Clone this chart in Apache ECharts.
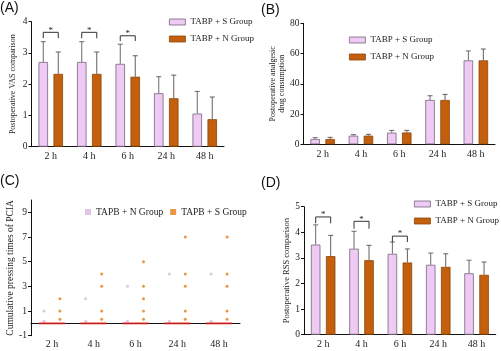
<!DOCTYPE html>
<html>
<head>
<meta charset="utf-8">
<script src="https://cdn.jsdelivr.net/npm/echarts@6/dist/echarts.min.js"></script>
<style>
  html, body { margin: 0; padding: 0; background: #fff; }
  #chart { width: 501px; height: 351px; }
</style>
</head>
<body>
<div id="chart"></div>
<script>
const hours = ['2 h', '4 h', '6 h', '24 h', '48 h'];

// (A) postoperative VAS, mean and SD
const vasS = [2.71, 2.71, 2.65, 1.71, 1.06];
const vasSsd = [0.65, 0.65, 0.63, 0.53, 0.71];
const vasN = [2.33, 2.33, 2.24, 1.55, 0.88];
const vasNsd = [0.70, 0.70, 0.67, 0.74, 0.71];
const vasSig = [[0, 3.66, 3.47], [1, 3.66, 3.47], [2, 3.55, 3.38]];

// (B) analgesic drug consumption
const drugS = [3.5, 5.7, 7.7, 29.3, 55.5];
const drugSsd = [0.9, 0.7, 1.5, 2.8, 6.2];
const drugN = [3.5, 5.7, 7.8, 29.3, 55.5];
const drugNsd = [1.1, 0.9, 1.4, 3.7, 7.5];

// (C) cumulative PCIA presses, individual values per time point
const pressN = [[1, 0], [2, 0], [3, 0], [4, 0], [4, 0]];
const pressS = [[2, 1, 0], [4, 3, 1, 0], [5, 3, 2, 1, 0], [7, 4, 3, 1, 0], [7, 4, 3, 1, 0]];
const medianN = [0, 0, 0, 0, 0];
const medianS = [0, 0, 0, 0, 0];
const pressTicks = [-1, 1, 3, 5, 7, 9];

// (D) postoperative RSS
const rssS = [3.52, 3.36, 3.16, 2.73, 2.40];
const rssSsd = [0.77, 0.68, 0.46, 0.46, 0.51];
const rssN = [3.07, 2.91, 2.82, 2.65, 2.34];
const rssNsd = [0.81, 0.58, 0.53, 0.51, 0.50];
const rssSig = [[0, 4.60, 4.35], [1, 4.43, 4.14], [2, 3.85, 3.62]];

const SERIF = 'Liberation Serif';
const PINK = '#efcaf4', PINK_EDGE = '#75667a';
const ORANGE = '#c4600d', ORANGE_EDGE = '#8c4408';
const BAR_W = 9.5, HALF = 7.5;
const S_NAME = 'TABP + S Group', N_NAME = 'TABP + N Group';

const chart = echarts.init(document.getElementById('chart'), null, { renderer: 'canvas' });

const grids = [
  { left: 31.5, top: 21.7, width: 192.5, height: 125 },
  { left: 303.5, top: 23.3, width: 191.5, height: 121 },
  { left: 31, top: 200, width: 209, height: 135.7 },
  { left: 304, top: 206.7, width: 191.75, height: 128 },
];

const lineStyle = { color: '#111', width: 1 };

function xAxis(gi, fontSize, margin) {
  return {
    type: 'category', gridIndex: gi, data: hours,
    axisLine: { lineStyle },
    axisTick: { alignWithLabel: true, length: 3, lineStyle },
    axisLabel: { fontFamily: SERIF, fontSize, color: '#222', margin },
  };
}

function yAxis(gi, min, max, interval, name, nameGap, fontSize) {
  return {
    type: 'value', gridIndex: gi, min, max, interval,
    name, nameLocation: 'middle', nameGap, nameRotate: 90,
    nameTextStyle: { fontFamily: SERIF, fontSize: fontSize, color: '#222', lineHeight: 9 },
    axisLine: { show: true, lineStyle },
    axisTick: { show: true, length: 3, lineStyle },
    axisLabel: { fontFamily: SERIF, fontSize: 9.5, color: '#222', margin: 4 },
    splitLine: { show: false },
  };
}

function errorSeries(gi, mean, sd, offset, color) {
  return {
    type: 'custom', xAxisIndex: gi, yAxisIndex: gi, z: 3,
    data: mean.map((m, i) => [i, m, m + sd[i]]),
    encode: { x: 0, y: [1, 2] },
    renderItem: (params, api) => {
      const base = api.coord([api.value(0), api.value(1)]);
      const top = api.coord([api.value(0), api.value(2)]);
      const x = base[0] + offset;
      const style = { stroke: color, lineWidth: 1 };
      return {
        type: 'group',
        children: [
          { type: 'line', shape: { x1: x, y1: base[1], x2: x, y2: top[1] }, style },
          { type: 'line', shape: { x1: x - 2.5, y1: top[1], x2: x + 2.5, y2: top[1] }, style },
        ],
      };
    },
  };
}

function bracketSeries(gi, sig) {
  return {
    type: 'custom', xAxisIndex: gi, yAxisIndex: gi, z: 4,
    data: sig,
    encode: { x: 0, y: [1, 2] },
    renderItem: (params, api) => {
      const top = api.coord([api.value(0), api.value(1)]);
      const leg = api.coord([api.value(0), api.value(2)]);
      const x = top[0];
      return {
        type: 'group',
        children: [
          {
            type: 'polyline',
            shape: { points: [[x - HALF, leg[1]], [x - HALF, top[1]], [x + HALF, top[1]], [x + HALF, leg[1]]] },
            style: { stroke: '#333', lineWidth: 1, fill: null },
          },
          {
            type: 'text',
            style: { text: '*', x, y: top[1] + 2.5, fontFamily: SERIF, fontSize: 9, fill: '#222', textAlign: 'center', textVerticalAlign: 'bottom' },
          },
        ],
      };
    },
  };
}

function barSeries(gi, name, data, color, edge) {
  return {
    type: 'bar', name, xAxisIndex: gi, yAxisIndex: gi, data,
    barWidth: BAR_W, barGap: '58%',
    itemStyle: { color, borderColor: edge, borderWidth: 0.8 },
  };
}

function barPanel(gi, sMean, sSd, nMean, nSd, sig) {
  const out = [
    barSeries(gi, S_NAME, sMean, PINK, PINK_EDGE),
    barSeries(gi, N_NAME, nMean, ORANGE, ORANGE_EDGE),
    errorSeries(gi, sMean, sSd, -HALF, '#6f6474'),
    errorSeries(gi, nMean, nSd, HALF, '#6b5d55'),
  ];
  if (sig) out.push(bracketSeries(gi, sig));
  return out;
}

function pointData(groups, dx, zeroLift) {
  const out = [];
  groups.forEach((vals, i) => {
    vals.forEach(v => {
      out.push(v === 0 ? { value: [i, v], symbolOffset: [dx, zeroLift] } : [i, v]);
    });
  });
  return out;
}

function barLegend(left, top) {
  return {
    orient: 'vertical', left, top, itemWidth: 16, itemHeight: 6, itemGap: 6,
    icon: 'rect', data: [S_NAME, N_NAME],
    itemStyle: { borderWidth: 0.8 },
    textStyle: { fontFamily: SERIF, fontSize: 9, color: '#222', lineHeight: 11 },
    selectedMode: false,
  };
}

const option = {
  animation: false,
  backgroundColor: '#fff',
  title: [
    { text: '(A)', left: 0, top: 1 },
    { text: '(B)', left: 261, top: 3 },
    { text: '(C)', left: 0, top: 174 },
    { text: '(D)', left: 261, top: 176 },
  ].map(t => ({ ...t, padding: 0, textStyle: { fontFamily: 'Liberation Sans', fontSize: 14, fontWeight: 'normal', color: '#111' } })),
  legend: [
    barLegend(164, 11.5),
    barLegend(344, 29.5),
    {
      orient: 'horizontal', left: 80, top: 202, itemWidth: 6, itemHeight: 6, itemGap: 7,
      icon: 'rect', data: ['TAPB + N Group', 'TAPB + S Group'],
      textStyle: { fontFamily: SERIF, fontSize: 9.5, color: '#222' },
      selectedMode: false,
    },
    barLegend(409, 193.5),
  ],
  grid: grids,
  xAxis: [xAxis(0, 10, 5), xAxis(1, 10, 5), xAxis(2, 10, 4), xAxis(3, 10, 5)],
  yAxis: [
    yAxis(0, 0, 4, 1, 'Postoperative VAS comparison', 14, 8),
    yAxis(1, 0, 80, 20, 'Postoperative analgesic\ndrug consumption', 17, 8),
    {
      type: 'value', gridIndex: 2, min: -1, max: 10,
      name: 'Cumulative pressing times of PCIA', nameLocation: 'middle', nameGap: 15, nameRotate: 90,
      nameTextStyle: { fontFamily: SERIF, fontSize: 9.5, color: '#222' },
      axisLine: { show: true, lineStyle },
      axisTick: { show: true, length: 3, lineStyle, customValues: pressTicks },
      axisLabel: { fontFamily: SERIF, fontSize: 9.5, color: '#222', margin: 4, customValues: pressTicks },
      splitLine: { show: false },
    },
    yAxis(3, 0, 5, 1, 'Postoperative RSS comparison', 11, 8.5),
  ],
  series: [
    ...barPanel(0, vasS, vasSsd, vasN, vasNsd, vasSig),
    ...barPanel(1, drugS, drugSsd, drugN, drugNsd, null),
    ...barPanel(3, rssS, rssSsd, rssN, rssNsd, rssSig),
    {
      type: 'scatter', name: 'TAPB + N Group', xAxisIndex: 2, yAxisIndex: 2, z: 2,
      symbolSize: 3, symbolOffset: [-8, 0],
      itemStyle: { color: '#d9b6e2' },
      data: pointData(pressN, -8, -2),
    },
    {
      type: 'scatter', name: 'TAPB + S Group', xAxisIndex: 2, yAxisIndex: 2, z: 2,
      symbolSize: 3, symbolOffset: [8, 0],
      itemStyle: { color: '#e27d1d' },
      data: pointData(pressS, 8, -4),
    },
    {
      type: 'scatter', xAxisIndex: 2, yAxisIndex: 2, z: 3,
      symbol: 'rect', symbolSize: [13, 2], symbolOffset: [-6.5, 0],
      itemStyle: { color: '#e8261f' },
      data: medianN.map((m, i) => [i, m]),
    },
    {
      type: 'scatter', xAxisIndex: 2, yAxisIndex: 2, z: 3,
      symbol: 'rect', symbolSize: [13, 2], symbolOffset: [6.5, 0],
      itemStyle: { color: '#e8261f' },
      data: medianS.map((m, i) => [i, m]),
    },
  ],
};

chart.setOption(option);
</script>
</body>
</html>
